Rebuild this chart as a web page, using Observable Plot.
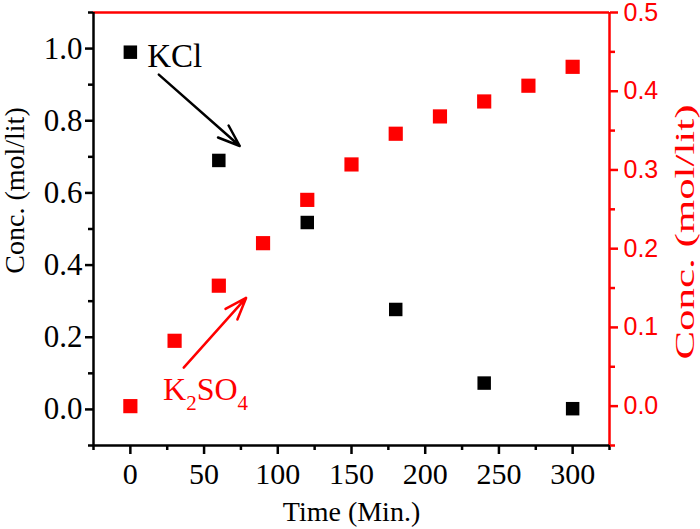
<!DOCTYPE html>
<html><head><meta charset="utf-8">
<script src="https://cdn.jsdelivr.net/npm/d3@7"></script>
<script src="https://cdn.jsdelivr.net/npm/@observablehq/plot@0.6"></script>
<style>body{margin:0;background:#fff} #chart svg{display:block}</style>
</head><body><div id="chart"></div>
<script>
// ---- data ----
const kclTime = [0, 60, 120, 180, 240, 300];
const kclConc = [0.990, 0.690, 0.518, 0.277, 0.073, 0.002];
const k2so4Time = [0, 30, 60, 90, 120, 150, 180, 210, 240, 270, 300];
const k2so4Conc = [0.000, 0.083, 0.153, 0.207, 0.262, 0.307, 0.346, 0.368, 0.387, 0.407, 0.431];

const xTicks = [0, 50, 100, 150, 200, 250, 300];
const xMinorTicks = [-25, 25, 75, 125, 175, 225, 275, 325];
const leftTicks = [0, 0.2, 0.4, 0.6, 0.8, 1.0];
const leftMinorTicks = [-0.1, 0.1, 0.3, 0.5, 0.7, 0.9, 1.1];
const rightTicks = [0, 0.1, 0.2, 0.3, 0.4, 0.5];
const rightMinorTicks = [-0.05, 0.05, 0.15, 0.25, 0.35, 0.45];
const xDomain = [-25, 325];
const leftDomain = [-0.1, 1.1];
const rightDomain = [-0.05, 0.5];

const xTitle = "Time (Min.)";
const leftTitle = "Conc. (mol/lit)";
const rightTitle = "Conc. (mol/lit)";

// annotations (data coordinates: x in Min., y on left axis)
const kclLabel = [{x: 11.4, y: 0.977, text: "KCl"}];
const kclArrow = [{x1: 19.3, y1: 0.928, x2: 74.2, y2: 0.730}];
const k2so4Label = [{x: 22.2, y: 0.055, text: "K2SO4"}];
const k2so4Arrow = [{x1: 36.2, y1: 0.116, x2: 78.5, y2: 0.309}];

// ---- helpers ----
const toLeft = r => leftDomain[0] + (r - rightDomain[0]) / (rightDomain[1] - rightDomain[0]) * (leftDomain[1] - leftDomain[0]);
const fromLeft = y => rightDomain[0] + (y - leftDomain[0]) / (leftDomain[1] - leftDomain[0]) * (rightDomain[1] - rightDomain[0]);
const fmt1 = v => (Math.round(v * 10) / 10 + 0).toFixed(1);

const kcl = kclTime.map((t, i) => ({t, c: kclConc[i]}));
const k2so4 = k2so4Time.map((t, i) => ({t, c: toLeft(k2so4Conc[i])}));

const SERIF = "Liberation Serif";
const SANS = "Liberation Sans";
const RED = "#ff0000";

const chart = Plot.plot({
  width: 700, height: 529,
  marginLeft: 93, marginRight: 91, marginTop: 12, marginBottom: 84,
  style: {background: "#fff", overflow: "visible"},
  x: {domain: xDomain, axis: null},
  y: {domain: leftDomain, axis: null},
  marks: [
    // frame
    Plot.ruleY([leftDomain[1]], {stroke: RED, strokeWidth: 2.5}),
    Plot.ruleX([xDomain[1]], {stroke: RED, strokeWidth: 2.5}),
    Plot.ruleY([leftDomain[0]], {stroke: "#000", strokeWidth: 2.5}),
    Plot.ruleX([xDomain[0]], {stroke: "#000", strokeWidth: 2.5}),
    // bottom axis
    Plot.axisX(xTicks, {anchor: "bottom", tickSize: 9, tickPadding: 8, strokeWidth: 2.5,
      fontSize: 30, fontFamily: SERIF, color: "#000", label: null, tickFormat: d => String(d)}),
    Plot.axisX(xMinorTicks, {anchor: "bottom", tickSize: 5, strokeWidth: 2.5, color: "#000", label: null, tickFormat: () => ""}),
    // left axis
    Plot.axisY(leftTicks, {anchor: "left", tickSize: 8, tickPadding: 3, strokeWidth: 2.5,
      fontSize: 31, fontFamily: SERIF, color: "#000", label: null, tickFormat: d => fmt1(d)}),
    Plot.axisY(leftMinorTicks, {anchor: "left", tickSize: 5, strokeWidth: 2.5, color: "#000", label: null, tickFormat: () => ""}),
    // right axis (K2SO4)
    Plot.axisY(rightTicks.map(toLeft), {anchor: "right", tickSize: 8, tickPadding: 6, strokeWidth: 2.5,
      fontSize: 25, fontFamily: SANS, color: RED, label: null, tickFormat: d => fmt1(fromLeft(d))}),
    Plot.axisY(rightMinorTicks.map(toLeft), {anchor: "right", tickSize: 5, strokeWidth: 2.5, color: RED, label: null, tickFormat: () => ""}),
    // titles
    Plot.text([xTitle], {frameAnchor: "bottom", dy: 67, fontSize: 28, fontFamily: SERIF, fill: "#000", textAnchor: "middle", lineAnchor: "middle"}),
    Plot.text([leftTitle], {frameAnchor: "left", rotate: -90, dx: -78.5, dy: -38.5, fontSize: 28, fontFamily: SERIF, fill: "#000", textAnchor: "middle", lineAnchor: "middle"}),
    Plot.text([rightTitle], {frameAnchor: "right", rotate: -90, dx: 76, dy: 3, fontSize: 28, fontFamily: SERIF, fill: RED, textAnchor: "middle", lineAnchor: "middle"}),
    // data
    Plot.dot(kcl, {x: "t", y: "c", symbol: "square", r: 7.6, fill: "#000", stroke: null}),
    Plot.dot(k2so4, {x: "t", y: "c", symbol: "square", r: 8, fill: RED, stroke: null}),
    // annotations
    Plot.text(kclLabel, {x: "x", y: "y", text: "text", textAnchor: "start", lineAnchor: "middle", fontSize: 33, fontFamily: SERIF, fill: "#000"}),
    Plot.arrow(kclArrow, {x1: "x1", y1: "y1", x2: "x2", y2: "y2", stroke: "#000", strokeWidth: 2.5, headLength: 14, headAngle: 40}),
    Plot.text(k2so4Label, {x: "x", y: "y", text: "text", textAnchor: "start", lineAnchor: "middle", fontSize: 32, fontFamily: SERIF, fill: RED}),
    Plot.arrow(k2so4Arrow, {x1: "x1", y1: "y1", x2: "x2", y2: "y2", stroke: RED, strokeWidth: 2.5, headLength: 14, headAngle: 40})
  ]
});

document.getElementById("chart").appendChild(chart);
const svg = d3.select(chart);

// subscripts for K2SO4
svg.selectAll("text").filter(function () { return this.textContent === "K2SO4"; }).each(function () {
  const t = d3.select(this);
  t.text(null);
  t.append("tspan").text("K");
  t.append("tspan").attr("font-size", 21).attr("dy", 10).text("2");
  t.append("tspan").attr("dy", -10).text("SO");
  t.append("tspan").attr("font-size", 21).attr("dy", 10).text("4");
});
// elongated right title, as in the reference (the second "Conc. (mol/lit)" text)
const titleNodes = svg.selectAll("text").filter(function () { return this.textContent === rightTitle; }).nodes();
if (titleNodes.length > 1) {
  d3.select(titleNodes[titleNodes.length - 1]).attr("textLength", 255).attr("lengthAdjust", "spacingAndGlyphs");
}
</script></body></html>
